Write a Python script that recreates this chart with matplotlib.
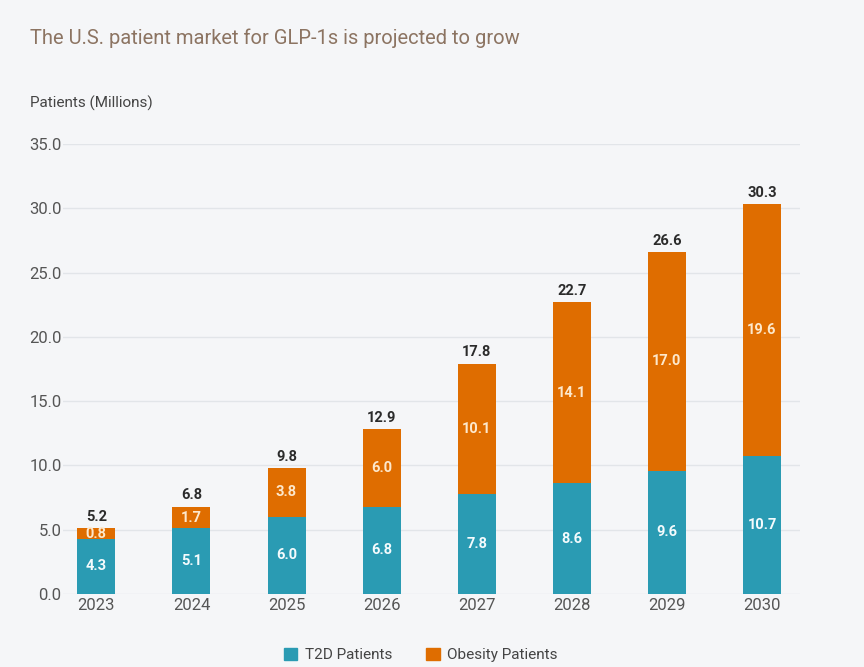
import numpy as np
import matplotlib.pyplot as plt
from matplotlib.patches import Patch

years = ['2023', '2024', '2025', '2026', '2027', '2028', '2029', '2030']
t2d = [4.3, 5.1, 6.0, 6.8, 7.8, 8.6, 9.6, 10.7]
obesity = [0.8, 1.7, 3.8, 6.0, 10.1, 14.1, 17.0, 19.6]
totals = [5.2, 6.8, 9.8, 12.9, 17.8, 22.7, 26.6, 30.3]
yticks = [0, 5, 10, 15, 20, 25, 30, 35]

teal = '#2a9bb3'
orange = '#df6d00'
bg = '#f5f6f8'

plt.rcParams['font.family'] = ['Roboto', 'DejaVu Sans']

fig = plt.figure(figsize=(8.64, 6.67), dpi=100, facecolor=bg)
ax = fig.add_axes([0.073, 0.1094, 0.853, 0.6747])
ax.set_facecolor(bg)

x = np.arange(len(years))
w = 0.4
ax.bar(x, t2d, w, color=teal, zorder=3)
ax.bar(x, obesity, w, bottom=t2d, color=orange, zorder=3)

for i in range(len(years)):
    ax.text(x[i], t2d[i] / 2, f'{t2d[i]:.1f}', ha='center', va='center',
            color='#f4fbfd', fontsize=10.5, fontweight='bold', zorder=4)
    ax.text(x[i], t2d[i] + obesity[i] / 2, f'{obesity[i]:.1f}', ha='center', va='center',
            color='#fde8cc', fontsize=10.5, fontweight='bold', zorder=4)
    ax.text(x[i], t2d[i] + obesity[i] + 0.35, f'{totals[i]:.1f}', ha='center', va='bottom',
            color='#2b2b2b', fontsize=10.5, fontweight='bold', zorder=4)

ax.set_xlim(-0.35, 7.4)
ax.set_ylim(0, 35)
ax.set_xticks(x)
ax.set_xticklabels(years)
ax.set_yticks(yticks)
ax.set_yticklabels([f'{v:.1f}' for v in yticks])
ax.tick_params(axis='both', length=0, labelsize=12, colors='#555555')
ax.tick_params(axis='y', pad=1)
ax.tick_params(axis='x', pad=3)
for s in ax.spines.values():
    s.set_visible(False)
ax.grid(axis='y', color='#e2e5e9', linewidth=1, zorder=0)

fig.text(30 / 864, 1 - 38 / 667, 'The U.S. patient market for GLP-1s is projected to grow',
         fontsize=14.5, color='#8c7462', va='center', ha='left')
fig.text(30 / 864, 1 - 103 / 667, 'Patients (Millions)', fontsize=11, color='#444444',
         va='center', ha='left')

handles = [Patch(color=teal, label='T2D Patients'), Patch(color=orange, label='Obesity Patients')]
fig.legend(handles=handles, loc='center', bbox_to_anchor=(0.487, 1 - 655 / 667), ncol=2,
           frameon=False, fontsize=11, labelcolor='#444444', handlelength=0.9, handleheight=0.9,
           columnspacing=2.2, handletextpad=0.5)

fig.savefig('out.png', dpi=100, facecolor=bg)
